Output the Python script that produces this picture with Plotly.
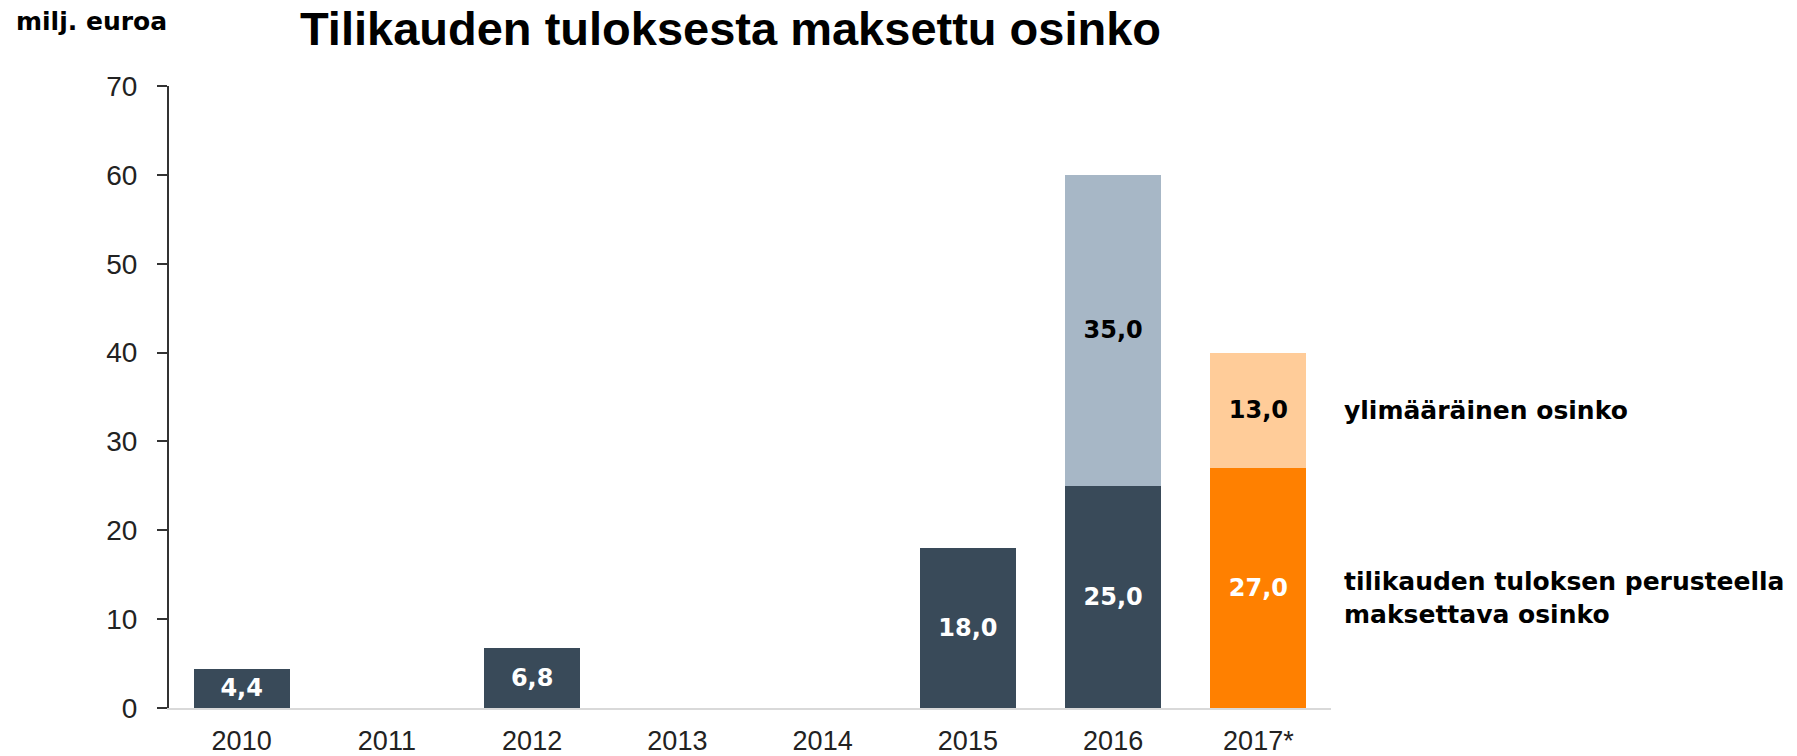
import plotly.graph_objects as go

# Dividend paid from the financial year's result, EUR million
years = ["2010", "2011", "2012", "2013", "2014", "2015", "2016", "2017*"]
base_dividend = [4.4, None, 6.8, None, None, 18.0, 25.0, 27.0]
extra_dividend = [None, None, None, None, None, None, 35.0, 13.0]

label_extra = "ylimääräinen osinko"
label_base = "tilikauden tuloksen perusteella<br>maksettava osinko"
title_text = "Tilikauden tuloksesta maksettu osinko"
unit_text = "milj. euroa"

DARK = "#394a59"
SLATE_LIGHT = "#a7b7c6"
ORANGE = "#ff8000"
ORANGE_LIGHT = "#ffcc99"

base_colors = [DARK] * 7 + [ORANGE]
extra_colors = [SLATE_LIGHT] * 7 + [ORANGE_LIGHT]

LABEL_FONT = "DejaVu Sans"
AXIS_FONT = "Liberation Sans, Arial, sans-serif"

fig = go.Figure()
fig.add_trace(go.Bar(
    x=years, y=base_dividend,
    marker=dict(color=base_colors, line=dict(width=0)),
    texttemplate="%{y:.1f}", textposition="inside", insidetextanchor="middle",
    insidetextfont=dict(family=LABEL_FONT, size=24, color="white", weight="bold"),
    constraintext="none", hoverinfo="skip", showlegend=False,
))
fig.add_trace(go.Bar(
    x=years, y=extra_dividend,
    marker=dict(color=extra_colors, line=dict(width=0)),
    texttemplate="%{y:.1f}", textposition="inside", insidetextanchor="middle",
    insidetextfont=dict(family=LABEL_FONT, size=24, color="black", weight="bold"),
    constraintext="none", hoverinfo="skip", showlegend=False,
))

plot_l, plot_r, plot_t, plot_b = 169, 1331, 86, 708
W, H = 1797, 756

def px_x(px):
    return (px - plot_l) / (plot_r - plot_l)

def px_y(py):
    return (plot_b - py) / (plot_b - plot_t)

annotations = [
    dict(text=title_text, xref="paper", yref="paper", x=px_x(298), y=px_y(0),
         xanchor="left", yanchor="top", showarrow=False,
         font=dict(family=AXIS_FONT, size=47, color="black", weight="bold")),
    dict(text=unit_text, xref="paper", yref="paper", x=px_x(14), y=px_y(22),
         xanchor="left", yanchor="middle", showarrow=False,
         font=dict(family=LABEL_FONT, size=25, color="black", weight="bold")),
    dict(text=label_extra, xref="paper", yref="y", x=px_x(1342),
         y=base_dividend[7] + extra_dividend[7] / 2,
         xanchor="left", yanchor="middle", showarrow=False, align="left",
         font=dict(family=LABEL_FONT, size=25, color="black", weight="bold")),
    dict(text=label_base, xref="paper", yref="y", x=px_x(1342),
         y=base_dividend[7] / 2, yshift=-10,
         xanchor="left", yanchor="middle", showarrow=False, align="left",
         font=dict(family=LABEL_FONT, size=25, color="black", weight="bold")),
]

fig.update_layout(
    template="none",
    width=W, height=H,
    margin=dict(l=plot_l, r=W - plot_r, t=plot_t, b=H - plot_b, pad=0),
    barmode="stack", bargap=0.34,
    plot_bgcolor="white", paper_bgcolor="white",
    separators=", ",
    annotations=annotations,
    xaxis=dict(
        type="category", range=[-0.5, 7.5], automargin=False,
        showline=True, linecolor="#d9d9d9", linewidth=2,
        ticks="", showgrid=False, zeroline=False,
        tickfont=dict(family=AXIS_FONT, size=27, color="#222222"),
        ticklabelstandoff=8,
    ),
    yaxis=dict(
        range=[0, 70], dtick=10, tick0=0, automargin=False,
        showline=True, linecolor="#333333", linewidth=2,
        ticks="outside", ticklen=10, tickwidth=2, tickcolor="#333333",
        showgrid=False, zeroline=False,
        tickfont=dict(family=AXIS_FONT, size=28, color="#222222"),
        ticklabelstandoff=14,
    ),
)

fig.write_html("out.html")
